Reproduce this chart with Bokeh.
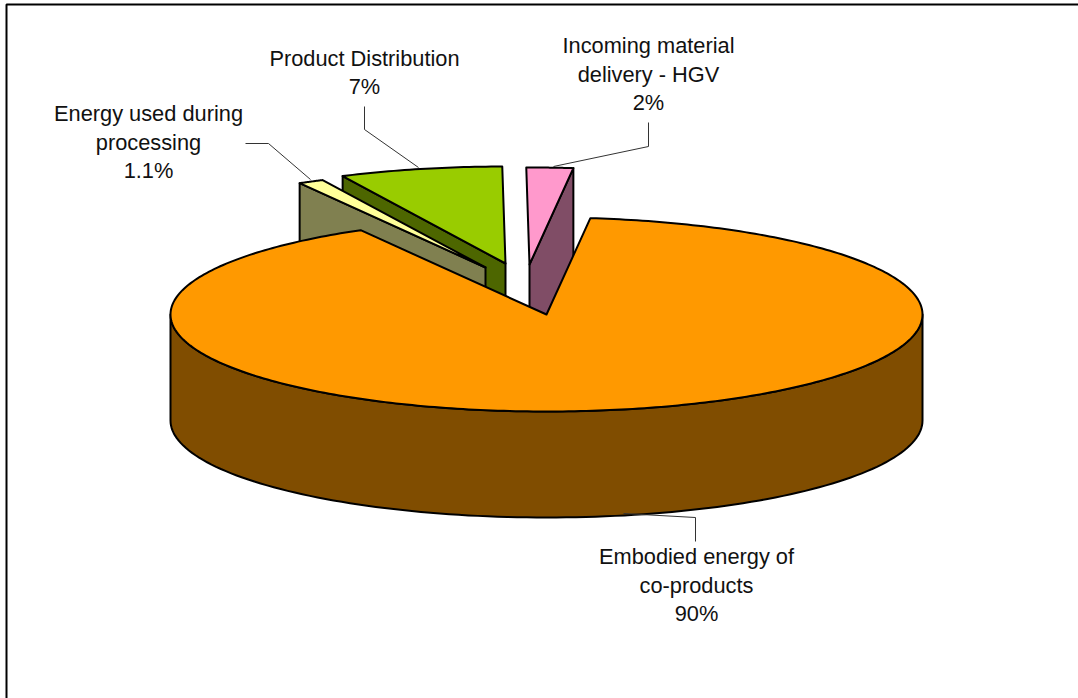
from math import cos, radians, sin

from bokeh.core.properties import value
from bokeh.embed import file_html
from bokeh.models import Range1d
from bokeh.plotting import figure
from bokeh.resources import INLINE

# Share of embodied energy by source, in the clockwise order of the slices
categories = [
    "Incoming material delivery - HGV",
    "Product Distribution",
    "Energy used during processing",
    "Embodied energy of co-products",
]
shares = [2, 7, 1.1, 90]
share_labels = ["2%", "7%", "1.1%", "90%"]

# Pie geometry in page pixels
WIDTH, HEIGHT = 1078, 698
RX, RY, DEPTH = 376, 97, 106
START_ANGLE = 83.3
apexes = [(529, 264), (505, 263), (485, 267), (546, 314)]
top_colors = ["#FF99CC", "#99CC00", "#FFFF99", "#FF9900"]
side_colors = ["#804D66", "#4D6600", "#808050", "#804D00"]

# Wrapped label lines with their centre positions
label_lines = [
    ["Incoming material", "delivery - HGV"],
    ["Product Distribution"],
    ["Energy used during", "processing"],
    ["Embodied energy of", "co-products"],
]
label_centers = [(648, 102), (364, 86), (148, 170), (696, 613)]
LINE_STEP = 28.3
leaders = [
    ([648, 648, 553], [122, 146, 166]),
    ([364, 364, 418], [106, 129, 167]),
    ([245, 268, 310], [143, 143, 179]),
    ([695, 695, 623], [541, 517, 513]),
]

p = figure(
    width=WIDTH, height=HEIGHT,
    x_range=Range1d(0, WIDTH), y_range=Range1d(HEIGHT, 0),
    output_backend="svg", toolbar_location=None,
    min_border=0, outline_line_color=None, background_fill_color="white",
)
p.axis.visible = False
p.grid.visible = False


def rim(apex, t0, t1, n=120):
    """Points along the elliptical rim of the pie, seen from above."""
    ts = [t0 + (t1 - t0) * i / n for i in range(n + 1)]
    return (
        [apex[0] + RX * cos(radians(t)) for t in ts],
        [apex[1] - RY * sin(radians(t)) for t in ts],
    )


def polygon(xs, ys, color):
    p.patch(xs, ys, fill_color=color, line_color="black", line_width=2, line_join="round")


# Slice spans, measured anticlockwise from the start of the first slice
total = sum(shares)
spans = []
angle = START_ANGLE
for share in shares:
    spans.append((angle, angle + share / total * 360))
    angle = spans[-1][1]

# Pulled-out slices first, each with the cut face that faces the viewer
for i in (1, 0, 2):
    t0, t1 = spans[i]
    ax, ay = apexes[i]
    if i == 0:
        edge_x, edge_y = rim(apexes[i], t0, t0, 1)
    else:
        edge_x, edge_y = rim(apexes[i], t1, t1, 1)
    polygon(
        [ax, edge_x[0], edge_x[0], ax],
        [ay, edge_y[0], edge_y[0] + DEPTH, ay + DEPTH],
        side_colors[i],
    )
    rx, ry = rim(apexes[i], t0, t1, 30)
    polygon([ax] + rx, [ay] + ry, top_colors[i])

# The large slice: outer wall, then the top surface over everything behind it
xs, ys = rim(apexes[3], 180, 360)
polygon(xs + xs[::-1], ys + [y + DEPTH for y in ys[::-1]], side_colors[3])
t0, t1 = spans[3]
xs, ys = rim(apexes[3], t0, t1, 360)
polygon([apexes[3][0]] + xs, [apexes[3][1]] + ys, top_colors[3])

# Chart frame, drawn along the top and left only
p.line([WIDTH, 6, 6], [4, 4, HEIGHT], line_color="black", line_width=2)

# Leader lines
for lx, ly in leaders:
    p.line(lx, ly, line_color="#333333", line_width=1)

# Data labels
for lines, share_label, (cx, cy) in zip(label_lines, share_labels, label_centers):
    rows = lines + [share_label]
    n = len(rows)
    p.text(
        x=[cx] * n,
        y=[cy - LINE_STEP * (n - 1 - k) for k in range(n)],
        text=rows,
        text_font=value("Liberation Sans"),
        text_font_size="21.8px",
        text_color="#111111",
        text_align="center",
        text_baseline="middle",
    )

open("out.html", "w").write(file_html(p, INLINE))
